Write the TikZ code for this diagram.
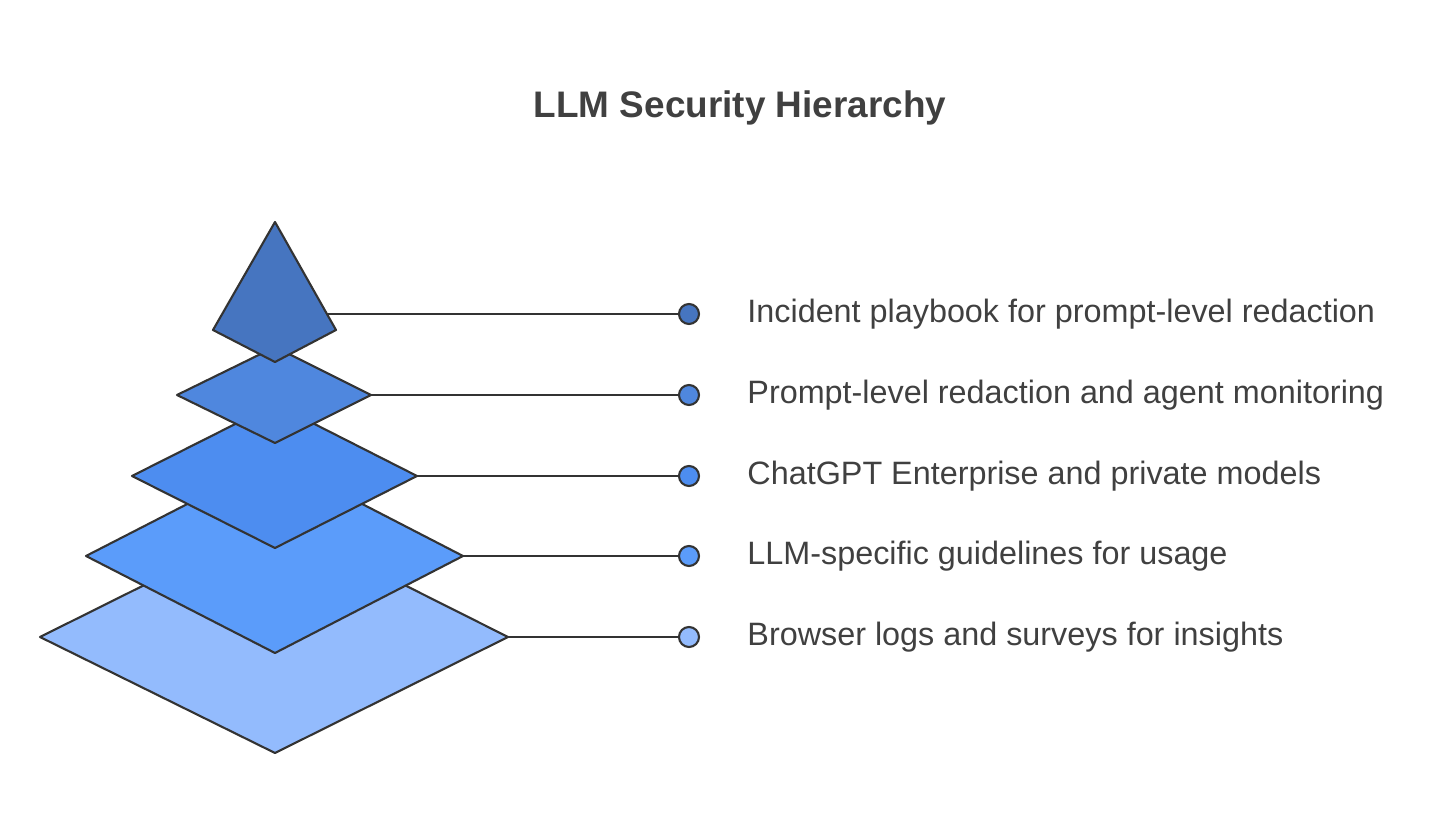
\documentclass[tikz,border=0pt]{standalone}
\usepackage{fontspec}
\setmainfont{Liberation Sans}
\usepackage{xcolor}
\usetikzlibrary{positioning}
\definecolor{tierA}{HTML}{93BBFD}
\definecolor{tierB}{HTML}{5B9CFA}
\definecolor{tierC}{HTML}{4D8DF0}
\definecolor{tierD}{HTML}{4F87DE}
\definecolor{tierE}{HTML}{4675C0}
\definecolor{inktext}{HTML}{404040}
\tikzset{
  tier/.style={draw=black!80, line width=0.6pt, line join=round},
  dot/.style={circle, draw=black!80, line width=0.6pt, minimum size=0.2cm, inner sep=0pt},
  lbl/.style={right, font=\fontsize{9.2pt}{11pt}\selectfont, text=inktext},
  lead/.style={draw=black!80, line width=0.6pt}
}
\begin{document}
\begin{tikzpicture}[x=0.01cm, y=-0.01cm]
            \useasboundingbox (0,0) rectangle (1456,837);
            % Title
            \node[font=\bfseries\fontsize{10.5pt}{12pt}\selectfont, text=inktext] (title) at (740,108) {LLM Security Hierarchy};

            % Tiers, bottom first
            \draw[tier, fill=tierA] (40,637) -- (275,520) -- (508,637) -- (275,753) -- cycle;
            \draw[tier, fill=tierB] (86,556) -- (275,459) -- (463,556) -- (275,653) -- cycle;
            \draw[tier, fill=tierC] (132,476) -- (275,404) -- (417,476) -- (275,548) -- cycle;
            \draw[tier, fill=tierD] (177,395) -- (275,347) -- (371,395) -- (275,443) -- cycle;
            \draw[tier, fill=tierE] (275,222) -- (336,330) -- (275,362) -- (213,330) -- cycle;

            % Anchors on the tiers
            \coordinate (tA) at (508,637);
            \coordinate (tB) at (463,556);
            \coordinate (tC) at (417,476);
            \coordinate (tD) at (371,395);
            \coordinate (tE) at (326,314);

            % Dots and labels
            \node[dot, fill=tierE] (dE) at (689,314) {};
            \node[dot, fill=tierD] (dD) at (689,395) {};
            \node[dot, fill=tierC] (dC) at (689,476) {};
            \node[dot, fill=tierB] (dB) at (689,556) {};
            \node[dot, fill=tierA] (dA) at (689,637) {};
            \node[lbl] (lE) at (735,314) {Incident playbook for prompt-level redaction};
            \node[lbl] (lD) at (735,395) {Prompt-level redaction and agent monitoring};
            \node[lbl] (lC) at (735,476) {ChatGPT Enterprise and private models};
            \node[lbl] (lB) at (735,556) {LLM-specific guidelines for usage};
            \node[lbl] (lA) at (735,637) {Browser logs and surveys for insights};

            % Leader lines
            \draw[lead] (tE) -- (dE);
            \draw[lead] (tD) -- (dD);
            \draw[lead] (tC) -- (dC);
            \draw[lead] (tB) -- (dB);
            \draw[lead] (tA) -- (dA);
\end{tikzpicture}
\end{document}
